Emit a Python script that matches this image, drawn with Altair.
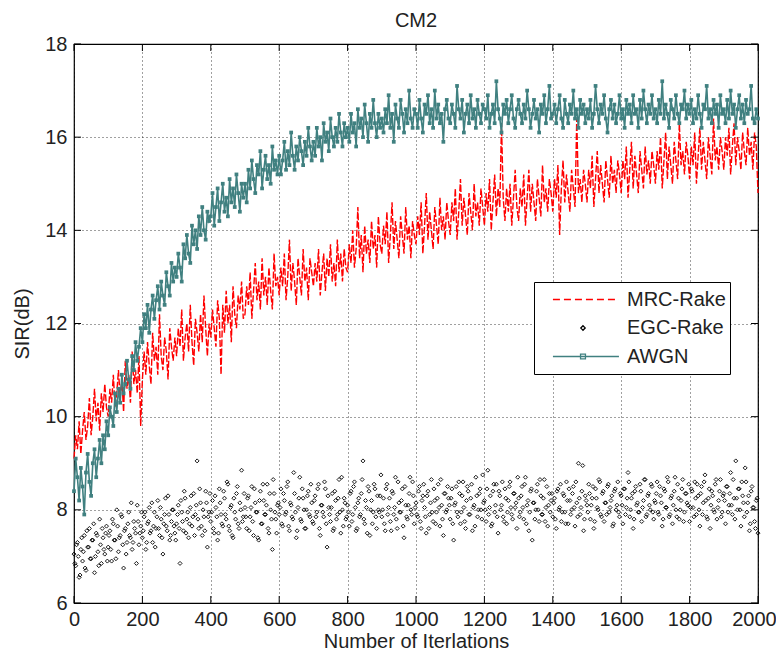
import altair as alt
import pandas as pd

# ---------------- data ----------------
iter_line = [i * 5 for i in range(401)]            # 0, 5, ..., 2000
iter_egc_a = [i * 5 for i in range(401)]           # 0, 5, ..., 2000
iter_egc_b = [i * 5 + 2.5 for i in range(400)]     # 2.5, 7.5, ..., 1997.5

mrc_rake = [
    9.1, 9.6, 9.3, 9.9, 9.2, 9.7, 10.1, 9.5, 9.8, 10.4, 9.6, 10.0, 10.6, 9.9, 10.3, 9.7, 10.5, 10.1, 10.7, 10.2,
    10.0, 10.6, 10.3, 10.9, 10.2, 10.5, 11.0, 10.4, 10.8, 10.1, 11.2, 10.6, 10.9, 10.3, 11.4, 10.7, 11.0, 10.5, 11.3, 9.8,
    10.8, 11.4, 10.9, 11.6, 11.1, 10.7, 11.8, 11.2, 11.5, 10.9, 12.2, 11.3, 11.0, 11.7, 11.4, 10.8, 11.9, 11.5, 11.2, 11.7,
    11.3, 11.9, 11.5, 12.3, 11.2, 11.7, 12.0, 11.4, 12.4, 11.6, 11.1, 12.1, 11.8, 11.4, 12.2, 11.6, 12.6, 11.9, 11.3, 12.0,
    11.7, 12.3, 11.9, 11.5, 12.5, 12.1, 10.9, 12.4, 11.8, 12.7, 12.0, 12.4, 11.6, 12.8, 12.2, 11.9, 12.6, 12.3, 12.9, 12.1,
    12.2, 12.8, 12.4, 13.1, 12.1, 12.7, 13.3, 12.5, 12.9, 12.3, 13.4, 12.6, 13.0, 12.4, 13.2, 12.7, 12.3, 13.5, 12.8, 13.0,
    12.6, 13.2, 12.8, 13.5, 12.5, 13.0, 13.8, 12.7, 13.3, 12.9, 12.4, 13.4, 13.0, 12.6, 13.6, 12.9, 13.2, 12.5, 13.4, 13.1,
    12.8, 13.3, 12.9, 13.6, 12.6, 13.1, 13.5, 12.7, 13.4, 13.0, 13.7, 12.9, 13.3, 12.8, 13.8, 13.1, 13.5, 12.9, 13.6, 13.2,
    13.1, 13.7, 13.3, 14.0, 13.2, 13.6, 14.5, 13.4, 13.9, 13.1, 14.1, 13.5, 13.8, 13.3, 14.2, 13.6, 13.9, 13.2, 14.3, 13.7,
    13.5, 14.1, 13.7, 14.4, 13.3, 13.9, 14.6, 13.6, 14.2, 13.8, 13.4, 14.3, 13.9, 13.5, 14.5, 13.8, 14.1, 13.4, 14.2, 13.9,
    13.7, 14.3, 13.9, 14.6, 13.5, 14.1, 14.8, 13.8, 14.4, 14.0, 13.6, 14.5, 14.1, 13.7, 14.7, 14.0, 14.3, 13.8, 14.6, 14.2,
    13.9, 14.6, 14.2, 14.9, 13.8, 14.4, 15.1, 14.1, 14.7, 14.3, 13.9, 14.8, 14.4, 14.0, 15.0, 14.3, 14.6, 14.1, 14.9, 14.5,
    14.1, 14.8, 14.4, 15.1, 14.0, 14.6, 15.2, 14.3, 14.9, 14.5, 16.3, 14.7, 14.2, 14.9, 14.4, 15.0, 14.1, 14.7, 15.3, 14.5,
    14.2, 14.9, 14.5, 15.2, 14.1, 14.7, 15.3, 14.4, 15.0, 14.6, 14.2, 15.1, 14.7, 14.3, 15.4, 14.6, 14.9, 14.4, 15.1, 14.8,
    14.4, 15.1, 14.7, 15.4, 13.9, 14.9, 15.5, 14.6, 15.2, 14.8, 14.4, 15.3, 14.9, 14.5, 16.4, 14.8, 15.1, 14.6, 15.3, 15.0,
    14.6, 15.3, 14.9, 15.6, 14.5, 15.1, 15.7, 14.8, 15.4, 15.0, 14.6, 15.5, 15.1, 14.7, 15.6, 15.0, 15.3, 14.8, 15.5, 15.2,
    14.8, 15.5, 15.1, 15.8, 14.7, 15.3, 15.9, 14.9, 15.6, 15.2, 14.8, 15.7, 15.3, 14.9, 15.8, 15.2, 15.5, 15.0, 15.7, 15.4,
    15.0, 15.7, 15.3, 16.0, 14.9, 15.5, 16.1, 15.1, 15.8, 15.4, 15.0, 15.9, 15.5, 15.1, 16.3, 15.4, 15.7, 15.2, 15.9, 15.6,
    15.1, 15.8, 15.4, 16.1, 15.0, 15.6, 16.2, 15.3, 15.9, 15.5, 15.1, 16.0, 15.6, 15.2, 16.4, 15.5, 15.8, 15.3, 16.0, 15.7,
    15.3, 16.0, 15.6, 16.2, 15.2, 15.8, 16.3, 15.4, 16.0, 15.7, 15.3, 16.1, 15.7, 15.4, 16.2, 15.6, 15.9, 15.3, 16.1, 15.8,
    14.8,
]

awgn = [
    8.4, 9.1, 8.7, 8.2, 8.9, 8.5, 7.9, 8.8, 9.2, 8.6, 8.3, 9.0, 9.3, 8.7, 9.1, 9.5, 9.0, 9.6, 9.3, 9.9,
    9.6, 10.2, 10.0, 9.8, 10.5, 10.1, 10.6, 10.3, 10.9, 10.5, 10.7, 11.2, 10.8, 10.6, 11.3, 11.0, 11.6, 11.2, 11.5, 11.9,
    11.6, 12.2, 11.9, 12.4, 11.8, 12.3, 12.6, 12.1, 12.5, 12.8, 12.3, 12.9, 12.6, 12.4, 13.1, 12.8, 12.6, 13.3, 12.9, 13.2,
    13.0, 13.5, 13.2, 12.9, 13.7, 13.4, 13.9, 13.5, 13.3, 14.1, 13.7, 14.0, 13.6, 14.3, 13.9, 14.5, 14.0, 13.8, 14.4, 14.2,
    14.3, 14.8, 14.1, 14.5, 14.9, 14.2, 14.6, 15.0, 14.4, 14.7, 14.3, 15.1, 14.6, 14.9, 14.5, 15.2, 14.8, 14.4, 15.0, 14.7,
    15.0, 14.6, 15.3, 14.9, 15.5, 15.1, 14.8, 15.4, 15.2, 15.7, 14.9, 15.3, 15.6, 15.1, 15.4, 15.0, 15.8, 15.3, 15.5, 15.2,
    15.6, 15.2, 15.5, 15.9, 15.3, 15.7, 15.4, 16.1, 15.6, 15.3, 15.8, 15.5, 16.0, 15.7, 15.4, 15.9, 15.6, 16.2, 15.8, 15.5,
    15.9, 15.6, 16.2, 15.8, 16.0, 15.5, 16.3, 15.9, 16.1, 15.7, 16.4, 16.0, 15.8, 16.2, 15.9, 16.5, 16.1, 15.8, 16.3, 16.0,
    16.2, 15.9, 16.5, 16.1, 16.3, 15.8, 16.6, 16.2, 16.4, 16.0, 16.7, 16.3, 15.9, 16.5, 16.2, 16.8, 16.3, 16.0, 16.5, 16.2,
    16.4, 16.1, 16.6, 16.3, 16.9, 16.2, 16.5, 15.9, 16.7, 16.4, 16.2, 16.8, 16.5, 16.1, 16.6, 16.3, 17.0, 16.4, 16.2, 16.6,
    16.5, 16.2, 16.8, 16.4, 16.1, 16.7, 16.5, 16.9, 16.3, 16.6, 16.2, 17.0, 16.4, 16.7, 16.3, 16.5, 15.9, 16.6, 16.8, 16.4,
    16.3, 16.7, 16.5, 16.2, 17.1, 16.6, 16.4, 16.8, 16.1, 16.5, 16.7, 16.3, 16.9, 16.4, 16.6, 16.2, 16.8, 16.5, 16.3, 16.7,
    16.6, 16.4, 16.9, 16.2, 16.5, 16.7, 16.3, 17.2, 16.6, 16.4, 16.1, 16.7, 16.5, 16.8, 16.3, 16.6, 16.9, 16.4, 16.2, 16.6,
    16.8, 16.5, 16.3, 16.7, 16.4, 17.0, 16.6, 16.2, 16.5, 16.8, 16.4, 16.6, 16.1, 16.7, 16.5, 16.9, 16.3, 16.6, 17.1, 16.4,
    16.5, 16.7, 16.3, 16.6, 16.9, 16.4, 16.2, 16.8, 16.5, 16.3, 16.7, 16.5, 17.0, 16.4, 16.6, 16.2, 16.8, 16.5, 16.7, 16.3,
    16.6, 16.4, 16.8, 16.2, 16.5, 17.1, 16.6, 16.3, 16.7, 16.5, 16.9, 16.4, 16.1, 16.6, 16.8, 16.4, 16.7, 16.3, 16.5, 16.9,
    16.4, 16.6, 16.2, 16.8, 16.5, 16.7, 16.3, 16.9, 16.5, 16.6, 16.2, 16.8, 16.4, 17.0, 16.6, 16.3, 16.7, 16.5, 16.9, 16.4,
    16.6, 16.3, 16.8, 16.5, 17.2, 16.4, 16.7, 16.5, 16.2, 16.8, 16.6, 16.4, 16.9, 16.5, 16.3, 16.7, 16.6, 17.0, 16.4, 16.7,
    16.5, 16.8, 16.3, 16.6, 16.4, 16.9, 16.5, 16.2, 16.7, 16.6, 17.1, 16.4, 16.6, 16.3, 16.8, 16.5, 16.7, 16.2, 16.9, 16.5,
    16.6, 16.3, 16.8, 16.4, 17.0, 16.5, 16.7, 16.2, 16.6, 16.9, 16.4, 16.7, 16.3, 16.8, 16.5, 16.6, 17.1, 16.4, 16.3, 16.6,
    16.4,
]

egc_rake_a = [
    7.05, 6.80, 7.30, 6.55, 7.15, 6.90, 7.45, 6.70, 7.20, 7.60, 6.95, 7.35, 6.65, 7.50, 7.10, 7.80, 6.85, 7.40, 7.05, 7.65,
    7.20, 7.55, 6.90, 7.70, 7.35, 8.00, 7.10, 7.45, 7.85, 6.75, 7.60, 7.30, 7.95, 7.40, 7.15, 7.75, 7.50, 8.10, 7.25, 7.65,
    7.40, 7.85, 7.15, 7.70, 8.05, 7.55, 7.30, 7.95, 7.60, 8.20, 7.45, 7.80, 7.05, 7.90, 7.65, 8.30, 7.35, 7.75, 8.00, 7.50,
    7.70, 8.10, 6.85, 7.95, 7.55, 8.25, 7.80, 7.40, 8.05, 7.65, 8.35, 7.90, 9.05, 7.60, 8.15, 7.45, 7.85, 8.40, 7.20, 7.95,
    7.75, 8.20, 7.50, 8.05, 7.35, 8.45, 7.90, 7.65, 8.25, 7.80, 8.55, 7.55, 8.10, 7.40, 7.95, 8.35, 7.70, 8.15, 8.85, 7.85,
    8.05, 7.60, 8.30, 7.85, 8.50, 7.45, 8.15, 7.95, 7.35, 8.40, 7.70, 8.20, 7.90, 8.55, 7.50, 8.00, 7.15, 8.35, 7.80, 8.10,
    7.90, 8.45, 7.65, 8.20, 7.95, 8.60, 7.55, 8.10, 7.80, 8.35, 7.40, 8.05, 8.70, 7.75, 8.25, 7.60, 8.00, 8.40, 7.85, 8.15,
    7.70, 8.30, 7.95, 8.55, 7.45, 8.10, 7.85, 8.45, 7.20, 8.05, 7.75, 8.35, 7.60, 8.20, 7.90, 8.65, 7.50, 8.00, 8.25, 7.80,
    8.10, 7.65, 8.40, 7.90, 8.60, 7.55, 8.15, 7.85, 8.35, 9.05, 7.70, 8.05, 8.50, 7.45, 8.20, 7.95, 8.45, 7.60, 8.00, 8.30,
    7.85, 8.25, 7.55, 8.55, 8.05, 7.75, 8.40, 7.90, 8.70, 7.60, 8.15, 7.95, 8.45, 7.40, 8.10, 7.80, 8.35, 8.00, 8.60, 7.70,
    8.15, 7.85, 8.50, 7.60, 8.30, 8.05, 7.50, 8.40, 7.90, 8.65, 7.75, 8.20, 7.95, 8.55, 7.65, 8.10, 7.45, 8.35, 8.00, 8.25,
    7.80, 8.45, 7.35, 8.15, 7.95, 8.60, 7.70, 8.30, 8.05, 7.60, 8.50, 7.90, 8.25, 7.55, 8.10, 8.70, 7.85, 8.35, 8.00, 8.75,
    8.20, 7.75, 8.85, 8.05, 7.65, 8.40, 7.95, 8.55, 7.50, 8.30, 8.10, 7.85, 8.45, 7.70, 8.20, 8.60, 7.90, 8.35, 8.05, 7.60,
    8.25, 7.95, 8.50, 7.80, 8.70, 8.10, 7.55, 8.40, 7.35, 8.15, 8.00, 8.55, 7.75, 8.30, 7.90, 8.65, 8.05, 7.65, 8.35, 8.20,
    7.85, 8.25, 7.60, 8.45, 8.05, 7.75, 8.35, 7.95, 8.60, 7.70, 8.20, 8.00, 8.50, 7.65, 8.15, 9.00, 7.90, 8.40, 7.55, 8.30,
    8.10, 8.55, 7.80, 8.25, 7.60, 8.45, 8.05, 8.65, 7.90, 8.35, 7.75, 8.15, 8.50, 7.95, 8.20, 7.65, 8.40, 8.00, 8.60, 7.85,
    8.30, 7.70, 8.45, 8.05, 8.80, 7.85, 8.25, 7.60, 8.40, 8.10, 7.95, 8.55, 7.75, 8.20, 8.65, 7.90, 8.35, 8.00, 8.50, 7.80,
    8.15, 8.60, 7.90, 8.30, 7.65, 8.45, 8.05, 8.70, 7.85, 8.25, 7.70, 8.40, 8.00, 8.55, 7.80, 8.20, 8.65, 7.95, 8.35, 8.10,
    7.75, 8.45, 8.05, 8.60, 7.90, 8.30, 7.65, 8.50, 8.15, 8.75, 7.85, 8.25, 7.60, 8.40, 8.00, 8.55, 7.80, 8.20, 8.65, 7.95,
    8.35, 7.70, 8.50, 8.10, 8.80, 7.90, 8.25, 9.05, 8.00, 8.45, 7.65, 8.30, 7.85, 8.60, 8.15, 7.55, 8.40, 8.05, 7.75, 8.20,
    7.50,
]

egc_rake_b = [
    6.85, 7.25, 7.00, 6.60, 7.40, 7.10, 6.75, 7.55, 7.20, 6.95, 7.35, 7.70, 7.00, 7.45, 6.80, 7.25, 7.60, 7.15, 7.50, 6.90,
    7.45, 7.15, 7.80, 7.35, 6.95, 7.65, 7.40, 7.90, 7.25, 7.55, 7.05, 7.70, 7.45, 8.15, 7.30, 7.60, 6.85, 7.75, 7.50, 7.95,
    7.55, 7.95, 7.30, 7.75, 7.50, 8.15, 7.65, 7.20, 7.85, 7.60, 8.05, 7.40, 7.70, 8.25, 7.55, 7.90, 7.45, 8.00, 7.65, 7.35,
    7.90, 7.60, 8.20, 7.75, 8.40, 7.50, 7.95, 7.70, 8.30, 7.85, 7.45, 8.10, 7.80, 8.45, 7.65, 8.00, 7.55, 8.15, 7.85, 8.35,
    7.95, 7.60, 8.30, 7.85, 7.50, 8.15, 7.70, 8.40, 7.90, 8.60, 7.65, 8.05, 7.45, 8.25, 7.80, 8.50, 7.60, 8.00, 7.75, 8.35,
    7.85, 8.25, 7.55, 8.05, 7.75, 8.45, 7.95, 7.40, 8.20, 7.70, 8.55, 7.90, 8.10, 7.60, 8.35, 7.80, 8.65, 7.95, 7.50, 8.15,
    8.05, 7.70, 8.35, 7.90, 8.50, 7.65, 8.15, 7.85, 8.80, 7.95, 7.55, 8.25, 7.80, 8.45, 8.00, 7.60, 8.30, 7.90, 8.55, 7.75,
    8.20, 7.85, 8.45, 7.60, 8.10, 7.95, 8.60, 7.70, 8.30, 7.90, 8.05, 7.55, 8.40, 7.80, 8.25, 7.95, 8.70, 7.65, 8.15, 7.85,
    7.95, 8.35, 7.75, 8.50, 8.05, 7.60, 8.25, 7.90, 8.65, 7.80, 8.20, 7.50, 8.40, 8.00, 7.70, 8.55, 7.85, 8.30, 7.95, 8.75,
    8.00, 7.70, 8.45, 7.90, 8.25, 7.55, 8.35, 8.05, 7.80, 8.60, 7.95, 8.20, 7.65, 8.50, 7.85, 8.10, 8.70, 7.90, 8.30, 8.05,
    7.90, 8.40, 7.75, 8.20, 8.55, 7.85, 8.30, 7.60, 8.15, 7.95, 8.45, 7.70, 8.25, 8.05, 8.65, 7.80, 8.35, 7.95, 8.50, 8.10,
    8.25, 7.70, 8.10, 8.50, 7.85, 8.35, 7.95, 8.60, 7.75, 8.20, 8.40, 7.90, 8.55, 8.05, 7.65, 8.30, 8.00, 8.45, 7.80, 8.15,
    8.00, 8.45, 7.90, 8.30, 7.70, 8.55, 8.10, 7.85, 8.40, 8.00, 8.60, 7.75, 8.25, 7.95, 8.50, 8.05, 7.80, 8.35, 8.15, 8.70,
    7.85, 8.30, 8.05, 8.55, 7.70, 8.20, 7.95, 8.45, 8.15, 7.80, 8.40, 8.00, 8.65, 7.90, 8.25, 7.75, 8.50, 8.10, 7.95, 8.35,
    8.15, 7.80, 8.40, 8.00, 8.55, 7.95, 8.30, 7.70, 8.20, 8.45, 7.90, 8.35, 8.05, 8.60, 7.85, 8.25, 8.05, 8.95, 7.80, 8.20,
    7.95, 8.35, 8.10, 8.50, 7.75, 8.25, 8.00, 8.60, 7.85, 8.40, 8.15, 7.90, 8.55, 8.05, 8.30, 7.70, 8.45, 8.10, 7.95, 8.35,
    8.10, 8.45, 7.90, 8.25, 8.60, 8.00, 8.35, 7.80, 8.50, 8.15, 7.95, 8.40, 8.05, 8.65, 7.85, 8.30, 8.10, 8.55, 7.95, 8.20,
    8.35, 7.95, 8.50, 8.15, 7.80, 8.40, 8.05, 8.60, 7.90, 8.30, 8.10, 8.70, 7.85, 8.25, 8.00, 8.45, 7.75, 8.35, 8.15, 8.55,
    8.05, 8.40, 7.85, 8.25, 8.55, 8.00, 8.35, 7.90, 8.60, 8.20, 7.80, 8.45, 8.10, 8.30, 7.95, 8.65, 8.05, 8.40, 7.85, 8.30,
    8.20, 8.50, 7.95, 8.35, 8.10, 8.65, 7.80, 8.25, 8.45, 8.00, 8.60, 8.15, 8.90, 7.95, 8.30, 7.70, 8.50, 8.05, 7.60, 8.25,
]

series_names = ["MRC-Rake", "EGC-Rake", "AWGN"]
series_colors = ["#ff0000", "#000000", "#408080"]
x_ticks = [0, 200, 400, 600, 800, 1000, 1200, 1400, 1600, 1800, 2000]
y_ticks = [6, 8, 10, 12, 14, 16, 18]

# legend glyphs: dashed line / small diamond / line with square marker
legend_shapes = [
    "M-0.66,0H0.95",
    "M0.073,-0.055L0.128,0L0.073,0.055L0.018,0Z",
    "M-0.66,0H0.95M0.013,-0.06H0.133V0.06H0.013Z",
]
legend_dashes = [[7, 4], [1, 0], [1, 0]]

FONT = "Liberation Sans"
TXT = "#222222"

df_mrc = pd.DataFrame({"it": iter_line, "sir": mrc_rake})
df_awgn = pd.DataFrame({"it": iter_line, "sir": awgn})
df_egc = pd.concat([
    pd.DataFrame({"it": iter_egc_a, "sir": egc_rake_a}),
    pd.DataFrame({"it": iter_egc_b, "sir": egc_rake_b}),
], ignore_index=True)
df_leg = pd.DataFrame({"series": series_names, "it": [None] * 3, "sir": [None] * 3})
df_xt = pd.DataFrame({"it": x_ticks})
df_yt = pd.DataFrame({"sir": y_ticks})

xs = alt.Scale(domain=[0, 2000], nice=False, zero=False)
ys = alt.Scale(domain=[6, 18], nice=False, zero=False)
x_axis = alt.Axis(values=x_ticks, format="d", title="Number of Iterlations",
                  labelFlush=False, labelOverlap=False,
                  labelOffset={"expr": "datum.value == 2000 ? -4 : 0"})
y_axis = alt.Axis(values=y_ticks, format="d", title="SIR(dB)",
                  labelFlush=False, labelOverlap=False)
X = alt.X("it:Q", scale=xs, axis=x_axis)
Y = alt.Y("sir:Q", scale=ys, axis=y_axis)

W, H = 684, 559

mrc_layer = alt.Chart(df_mrc).mark_line(
    color="#ff0000", strokeWidth=1.4, strokeDash=[7, 2]
).encode(x=X, y=Y)

egc_layer = alt.Chart(df_egc).mark_point(
    shape="diamond", filled=False, color="#000000", size=16, strokeWidth=1.0, opacity=0.9
).encode(x=X, y=Y)

awgn_line = alt.Chart(df_awgn).mark_line(
    color="#408080", strokeWidth=1.6
).encode(x=X, y=Y)

awgn_pts = alt.Chart(df_awgn).mark_square(
    color="#408080", size=14, opacity=1
).encode(x=X, y=Y)

leg = dict(title=None)
legend_layer = alt.Chart(df_leg).mark_point(filled=False, strokeWidth=1.3, opacity=1).encode(
    x=X, y=Y,
    shape=alt.Shape("series:N", scale=alt.Scale(domain=series_names, range=legend_shapes), legend=alt.Legend(**leg)),
    color=alt.Color("series:N", scale=alt.Scale(domain=series_names, range=series_colors), legend=alt.Legend(**leg)),
    strokeDash=alt.StrokeDash("series:N", scale=alt.Scale(domain=series_names, range=legend_dashes), legend=alt.Legend(**leg)),
)

TL = 7
xt_bottom = alt.Chart(df_xt).mark_rule(color="#000", strokeWidth=1).encode(
    x=X, y=alt.value(H), y2=alt.value(H - TL))
xt_top = alt.Chart(df_xt).mark_rule(color="#000", strokeWidth=1).encode(
    x=X, y=alt.value(0), y2=alt.value(TL))
yt_left = alt.Chart(df_yt).mark_rule(color="#000", strokeWidth=1).encode(
    y=Y, x=alt.value(0), x2=alt.value(TL))
yt_right = alt.Chart(df_yt).mark_rule(color="#000", strokeWidth=1).encode(
    y=Y, x=alt.value(W), x2=alt.value(W - TL))

chart = alt.layer(
    mrc_layer, egc_layer, awgn_line, awgn_pts, xt_bottom, xt_top, yt_left, yt_right, legend_layer
).properties(
    width=W, height=H,
    title=alt.TitleParams("CM2", font=FONT, fontSize=20, fontWeight="normal", color=TXT, offset=3),
    autosize=alt.AutoSizeParams(type="none"),
    padding={"left": 66, "top": 36, "right": 18, "bottom": 50},
).configure_view(
    stroke="#000000", strokeWidth=1.2
).configure_axis(
    labelFont=FONT, labelFontSize=20, labelColor=TXT,
    titleFont=FONT, titleFontSize=20, titleFontWeight="normal", titleColor=TXT,
    domain=False, ticks=False,
    grid=True, gridColor="#000000", gridDash=[1, 3], gridOpacity=0.75, gridWidth=1,
).configure_axisX(
    labelPadding=6, titlePadding=2,
).configure_axisY(
    labelPadding=7, titlePadding=12,
).configure_legend(
    orient="none", legendX=460, legendY=238,
    padding=4, strokeColor="#000000", strokeWidth=1, fillColor="#ffffff",
    symbolSize=6724, clipHeight=27, rowPadding=1.5,
    labelFont=FONT, labelFontSize=20, labelColor=TXT, labelOffset=5,
    symbolStrokeWidth=1.3,
)

chart.save("out.html", embed_options={"renderer": "svg", "actions": False})
